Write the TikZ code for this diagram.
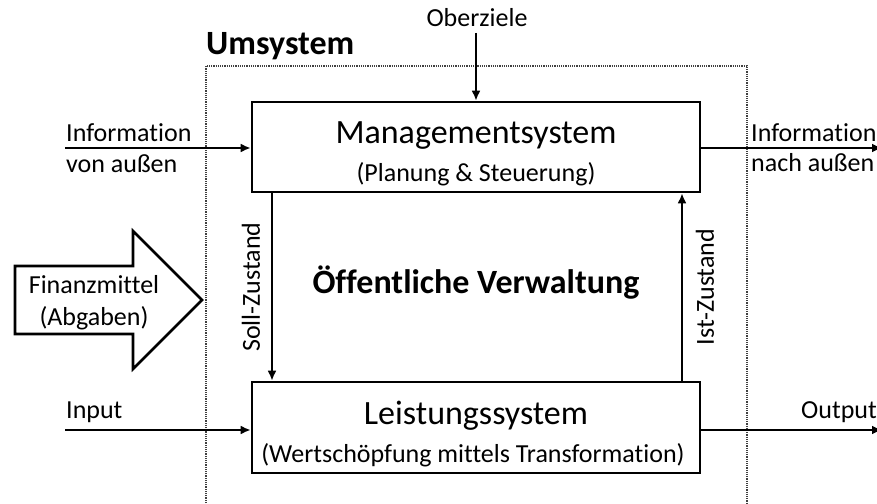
\documentclass[tikz,border=0pt]{standalone}
\usepackage{fontspec}
\setmainfont[Ligatures={NoCommon}]{Carlito}
\usetikzlibrary{arrows.meta}
\begin{document}
\begin{tikzpicture}[x=1pt,y=-1pt,
  sysbox/.style={draw,line width=2.6pt,minimum width=448pt,minimum height=90pt,inner sep=0pt},
  flow/.style={line width=2.4pt,-{Latex[length=10pt,width=9pt]}},
  envline/.style={draw=black!75,line width=1.2pt,dash pattern=on 1.2pt off 1pt},
  lbl/.style={font=\fontsize{26}{30}\selectfont,inner sep=0pt},
  title/.style={font=\fontsize{34}{40}\selectfont,inner sep=0pt,anchor=base},
  big/.style={font=\bfseries\fontsize{34}{40}\selectfont,inner sep=0pt}]
\useasboundingbox (0,0) rectangle (877,503);
% environment boundary (open at bottom)
\draw[envline] (206,503) -- (206,66) -- (747,66) -- (747,503);
\node[big,anchor=base west] (ums) at (206,55) {Umsystem};
% boxes
\node[sysbox] (mgmt) at (476,147) {};
\node[sysbox,minimum height=91pt] (leist) at (476,427.5) {};
\node[title] (mt) at (476,143) {Managementsystem};
\node[lbl,anchor=base] (ms) at (476,181) {(Planung \& Steuerung)};
\node[title] (lt) at (476,424) {Leistungssystem};
\node[lbl,anchor=base] (ls) at (473,462) {(Wertschöpfung mittels Transformation)};
\node[big,anchor=base] (oev) at (476,293) {Öffentliche Verwaltung};
% Oberziele
\node[lbl,anchor=base] (ober) at (477,27) {Oberziele};
\coordinate (obs) at (476,33);
\draw[flow] (obs) -- (obs |- mgmt.north);
% Information von außen
\node[lbl,anchor=base west] (iv1) at (66,141) {Information};
\node[lbl,anchor=base west] (iv2) at (66,172) {von außen};
\coordinate (ivs) at (65,148);
\draw[flow] (ivs) -- (ivs -| mgmt.west);
% Information nach außen
\node[lbl,anchor=base west] (in1) at (751,141) {Information};
\node[lbl,anchor=base west] (in2) at (751,171) {nach außen};
\coordinate (ine) at (882,148);
\draw[flow] (ine -| mgmt.east) -- (ine);
% Input / Output
\node[lbl,anchor=base west] (inp) at (66,418) {Input};
\coordinate (ips) at (65,430);
\draw[flow] (ips) -- (ips -| leist.west);
\node[lbl,anchor=base east] (outp) at (877,418) {Output};
\coordinate (ope) at (882,430);
\draw[flow] (ope -| leist.east) -- (ope);
% Soll / Ist
\coordinate (sx) at (272,0);
\coordinate (ix) at (682,0);
\draw[flow] (sx |- mgmt.south) -- (sx |- leist.north);
\draw[flow] (ix |- leist.north) -- (ix |- mgmt.south);
\node[lbl,rotate=90] (soll) at (251,287) {Soll-Zustand};
\node[lbl,rotate=90] (ist) at (705,287) {Ist-Zustand};
% Finanzmittel arrow
\draw[line width=2.6pt,line join=miter] (15,266) -- (133,266) -- (133,231) -- (202,300) -- (133,369) -- (133,334) -- (15,334) -- cycle;
\node[lbl,anchor=base] (fin1) at (94,293) {Finanzmittel};
\node[lbl,anchor=base] (fin2) at (94,325) {(Abgaben)};
\end{tikzpicture}
\end{document}
